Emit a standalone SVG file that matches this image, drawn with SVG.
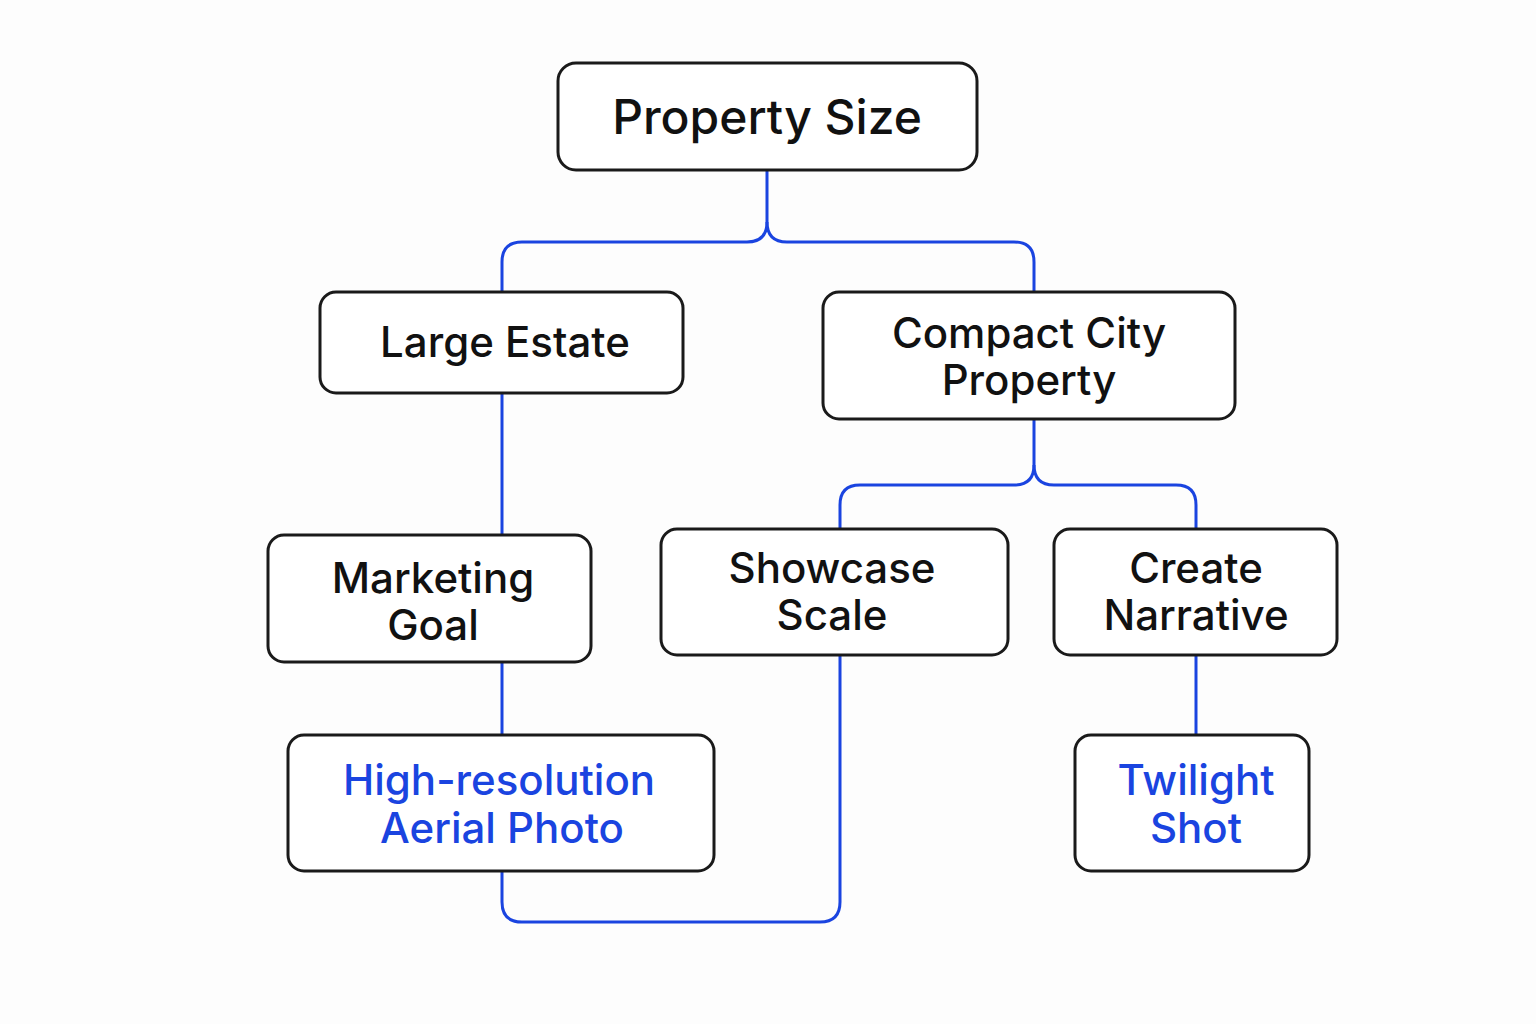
<svg xmlns="http://www.w3.org/2000/svg" width="1536" height="1024" viewBox="0 0 1536 1024">
<style>
.box{fill:#fff;stroke:#1a1a1a;stroke-width:3}
.t{font-family:Inter,"Noto Sans",sans-serif;font-size:42px;font-weight:500;fill:#111;text-anchor:middle}
.b{fill:#1a44e0}
.c{fill:none;stroke:#1a44e0;stroke-width:3}
</style>
<rect width="1536" height="1024" fill="#fdfdfd"/>
<g id="connectors">
<path class="c" d="M767 170 V222 Q767 242 747 242 H522 Q502 242 502 262 V292"/>
<path class="c" d="M767 222 Q767 242 787 242 H1014 Q1034 242 1034 262 V292"/>
<path class="c" d="M502 393 V535"/>
<path class="c" d="M502 662 V735"/>
<path class="c" d="M1034 419 V465 Q1034 485 1014 485 H860 Q840 485 840 505 V529"/>
<path class="c" d="M1034 465 Q1034 485 1054 485 H1176 Q1196 485 1196 505 V529"/>
<path class="c" d="M1196 655 V735"/>
<path class="c" d="M840 655 V902 Q840 922 820 922 H522 Q502 922 502 902 V871"/>
</g>
<g id="property-size"><rect class="box" x="558" y="63" width="419" height="107" rx="18"/><text class="t" x="767" y="134" style="font-size:48px">Property Size</text></g>
<g id="large-estate"><rect class="box" x="320" y="292" width="363" height="101" rx="16"/><text class="t" x="505" y="357">Large Estate</text></g>
<g id="compact-city"><rect class="box" x="823" y="292" width="412" height="127" rx="16"/><text class="t" x="1029" y="348">Compact City</text><text class="t" x="1029" y="395">Property</text></g>
<g id="marketing-goal"><rect class="box" x="268" y="535" width="323" height="127" rx="16"/><text class="t" x="433" y="593">Marketing</text><text class="t" x="433" y="640">Goal</text></g>
<g id="showcase-scale"><rect class="box" x="661" y="529" width="347" height="126" rx="16"/><text class="t" x="832" y="583">Showcase</text><text class="t" x="832" y="630">Scale</text></g>
<g id="create-narrative"><rect class="box" x="1054" y="529" width="283" height="126" rx="16"/><text class="t" x="1196" y="583">Create</text><text class="t" x="1196" y="630">Narrative</text></g>
<g id="aerial-photo"><rect class="box" x="288" y="735" width="426" height="136" rx="16"/><text class="t b" x="499" y="795">High-resolution</text><text class="t b" x="502" y="843">Aerial Photo</text></g>
<g id="twilight-shot"><rect class="box" x="1075" y="735" width="234" height="136" rx="16"/><text class="t b" x="1196" y="795">Twilight</text><text class="t b" x="1196" y="843">Shot</text></g>
</svg>
